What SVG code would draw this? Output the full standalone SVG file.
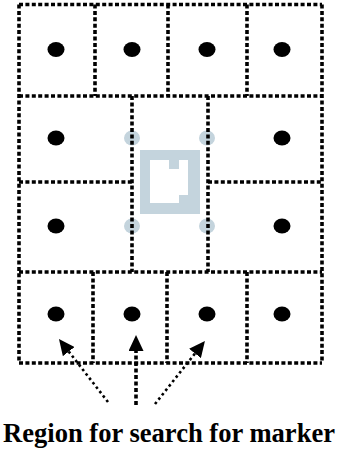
<svg xmlns="http://www.w3.org/2000/svg" width="338" height="450" viewBox="0 0 338 450">
  <style>
    .grid line { fill: none; stroke: #000; stroke-width: 3.6; stroke-dasharray: 4 2.4; }
    .area { fill: none; stroke: none; }
    .dot { fill: #000; }
    .corner { fill: #c4d4dd; }
    .dotted { fill: none; stroke: #000; stroke-width: 2.6; stroke-dasharray: 2.6 3; }
    .thick { fill: none; stroke: #000; stroke-width: 3.6; stroke-dasharray: 4 2.5; }
    .label { font-family: "Liberation Serif", "Times New Roman", serif; font-weight: bold; font-size: 26.5px; fill: #000; }
  </style>
  <defs>
    <marker id="arrow" viewBox="0 0 16 15" refX="0" refY="7.5" markerWidth="16" markerHeight="15" markerUnits="userSpaceOnUse" orient="auto">
      <path d="M0,0 L16,7.5 L0,15 z" fill="#000"/>
    </marker>
  </defs>
  <rect width="338" height="450" fill="#fff"/>

  <!-- Row 1 -->
  <g id="r1c1"><rect class="area" x="19" y="4.5" width="76" height="91.5"/><ellipse class="dot" cx="56" cy="49.5" rx="8.5" ry="7.5"/></g>
  <g id="r1c2"><rect class="area" x="95" y="4.5" width="73" height="91.5"/><ellipse class="dot" cx="132" cy="49.5" rx="8.5" ry="7.5"/></g>
  <g id="r1c3"><rect class="area" x="168" y="4.5" width="79" height="91.5"/><ellipse class="dot" cx="207" cy="49.5" rx="8.5" ry="7.5"/></g>
  <g id="r1c4"><rect class="area" x="247" y="4.5" width="75" height="91.5"/><ellipse class="dot" cx="282" cy="49.5" rx="8.5" ry="7.5"/></g>

  <!-- Row 2 -->
  <g id="r2c1"><rect class="area" x="19" y="96" width="113" height="86"/><ellipse class="dot" cx="56" cy="138" rx="8.5" ry="7.5"/></g>
  <g id="r2c3"><rect class="area" x="208" y="96" width="114" height="86"/><ellipse class="dot" cx="282" cy="138" rx="8.5" ry="7.5"/></g>

  <!-- Row 3 -->
  <g id="r3c1"><rect class="area" x="19" y="182" width="113" height="90"/><ellipse class="dot" cx="56" cy="226" rx="8.5" ry="7.5"/></g>
  <g id="r3c3"><rect class="area" x="208" y="182" width="114" height="90"/><ellipse class="dot" cx="282" cy="226" rx="8.5" ry="7.5"/></g>

  <!-- Center marker cell -->
  <g id="marker">
    <ellipse class="corner" cx="132" cy="138" rx="8" ry="7.5"/>
    <ellipse class="corner" cx="207" cy="138" rx="8" ry="7.5"/>
    <ellipse class="corner" cx="132" cy="226" rx="8" ry="7.5"/>
    <ellipse class="corner" cx="207" cy="226" rx="8" ry="7.5"/>
    <path fill="#c4d4dd" fill-rule="evenodd" d="M140,150 H200 V214 H140 Z M150,160 H169 V169 H179 V160 H188 V195 H179 V203 H150 Z"/>
  </g>

  <!-- Row 4 -->
  <g id="r4c1"><rect class="area" x="19" y="272" width="74" height="91"/><ellipse class="dot" cx="56" cy="314" rx="8.5" ry="7.5"/></g>
  <g id="r4c2"><rect class="area" x="93" y="272" width="74" height="91"/><ellipse class="dot" cx="132" cy="314" rx="8.5" ry="7.5"/></g>
  <g id="r4c3"><rect class="area" x="167" y="272" width="80" height="91"/><ellipse class="dot" cx="207" cy="314" rx="8.5" ry="7.5"/></g>
  <g id="r4c4"><rect class="area" x="247" y="272" width="75" height="91"/><ellipse class="dot" cx="282" cy="314" rx="8.5" ry="7.5"/></g>

  <!-- Grid lines (cell borders) -->
  <g id="grid" class="grid">
    <line x1="19" y1="4.5" x2="322" y2="4.5"/>
    <line x1="19" y1="96" x2="322" y2="96"/>
    <line x1="19" y1="182" x2="132" y2="182"/>
    <line x1="208" y1="182" x2="322" y2="182"/>
    <line x1="19" y1="272" x2="322" y2="272"/>
    <line x1="19" y1="363" x2="322" y2="363"/>
    <line x1="19" y1="4.5" x2="19" y2="363"/>
    <line x1="322" y1="4.5" x2="322" y2="363"/>
    <line x1="95" y1="4.5" x2="95" y2="96"/>
    <line x1="168" y1="4.5" x2="168" y2="96"/>
    <line x1="247" y1="4.5" x2="247" y2="96"/>
    <line x1="132" y1="96" x2="132" y2="272"/>
    <line x1="208" y1="96" x2="208" y2="272"/>
    <line x1="93" y1="272" x2="93" y2="363"/>
    <line x1="167" y1="272" x2="167" y2="363"/>
    <line x1="247" y1="272" x2="247" y2="363"/>
  </g>

  <!-- Connectors -->
  <g id="connectors">
    <line class="dotted" x1="108" y1="402" x2="68.8" y2="351.6" marker-end="url(#arrow)"/>
    <line class="thick" x1="136" y1="405" x2="136" y2="351" marker-end="url(#arrow)"/>
    <line class="dotted" x1="155" y1="404" x2="195" y2="353.5" marker-end="url(#arrow)"/>
  </g>

  <text class="label" x="169" y="441.5" text-anchor="middle" textLength="332" lengthAdjust="spacingAndGlyphs">Region for search for marker</text>
</svg>
